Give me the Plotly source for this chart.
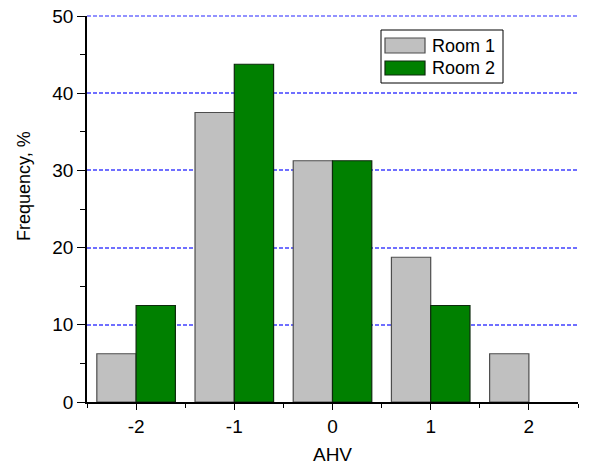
import plotly.graph_objects as go

# AHV vote frequencies per room
ahv = [-2, -1, 0, 1, 2]
room1 = [6.25, 37.5, 31.25, 18.75, 6.25]
room2 = [12.5, 43.75, 31.25, 12.5, 0]
series_names = ["Room 1", "Room 2"]
y_max = 50

FONT = "Liberation Sans, Arial, sans-serif"
fill_colors = ["#c0c0c0", "#008000"]
edge_colors = ["#4d4d4d", "#0d2a0d"]
GRID_COLOR = "#6f6fff"
GRID_DASH = "4px,2px"

# plot area in pixels
W, H = 596, 465
L, R, T, B = 87, 18, 16, 63
PW, PH = W - L - R, H - T - B

fig = go.Figure()
for name, vals, fc, ec in zip(series_names, [room1, room2], fill_colors, edge_colors):
    fig.add_trace(go.Bar(
        x=ahv, y=vals, name=name,
        marker=dict(color=fc,
                    line=dict(color=ec, width=[1.2 if v > 0 else 0 for v in vals])),
        showlegend=False,
    ))

fig.update_layout(
    width=W, height=H,
    margin=dict(l=L, r=R, t=T, b=B),
    barmode="group", bargap=0.2, bargroupgap=0,
    plot_bgcolor="white", paper_bgcolor="white",
    font=dict(family=FONT, size=19, color="black"),
)

fig.update_xaxes(
    range=[-2.5, 2.5], tickmode="array", tickvals=ahv, ticktext=[str(v) for v in ahv],
    ticks="outside", ticklen=6, tickwidth=1.2, tickcolor="black",
    showline=True, linecolor="black", linewidth=1.5,
    showgrid=False, zeroline=False, automargin=False,
    minor=dict(tickmode="array", tickvals=[-2.5, -1.5, -0.5, 0.5, 1.5, 2.5],
               ticks="outside", ticklen=4, tickwidth=1.2, tickcolor="black"),
    tickfont=dict(size=19),
    title=dict(text="AHV", font=dict(size=19), standoff=12),
)

fig.update_yaxes(
    range=[0, y_max], tickmode="linear", tick0=0, dtick=10,
    ticks="outside", ticklen=8, tickwidth=1.2, tickcolor="black",
    showline=True, linecolor="black", linewidth=1.5,
    showgrid=True, gridcolor=GRID_COLOR, griddash=GRID_DASH, gridwidth=1.5,
    zeroline=False, automargin=False,
    minor=dict(tickmode="linear", tick0=5, dtick=10,
               ticks="outside", ticklen=5, tickwidth=1.2, tickcolor="black",
               showgrid=False),
    tickfont=dict(size=19),
)

# dashed grid line along the top edge of the axis range (paper y=1 is y_max)
fig.add_shape(type="line", xref="paper", yref="paper", x0=0, x1=1, y0=1, y1=1,
              line=dict(color=GRID_COLOR, width=1.5, dash=GRID_DASH), layer="below")

def ux(x):
    return (x - L) / PW
def uy(y):
    return (H - B - y) / PH

# Y axis title, placed a little above the middle of the axis
fig.add_annotation(xref="paper", yref="paper", x=ux(24), y=uy(186),
                   text="Frequency, %", textangle=-90, showarrow=False,
                   xanchor="center", yanchor="middle",
                   font=dict(size=18, family=FONT, color="black"))

# Legend box with wide swatches
fig.add_shape(type="rect", xref="paper", yref="paper",
              x0=ux(381), x1=ux(503), y0=uy(83), y1=uy(30),
              line=dict(color="black", width=1), fillcolor="white", layer="above")

rows = [(38, 53), (61, 75)]
for (sy0, sy1), name, fc, ec in zip(rows, series_names, fill_colors, edge_colors):
    fig.add_shape(type="rect", xref="paper", yref="paper",
                  x0=ux(385), x1=ux(425), y0=uy(sy1), y1=uy(sy0),
                  line=dict(color=ec, width=1.2), fillcolor=fc, layer="above")
    fig.add_annotation(xref="paper", yref="paper",
                       x=ux(430), y=uy((sy0 + sy1) / 2),
                       text=name, showarrow=False, xanchor="left", yanchor="middle",
                       font=dict(size=18, family=FONT, color="black"))

fig.write_html("out.html")
